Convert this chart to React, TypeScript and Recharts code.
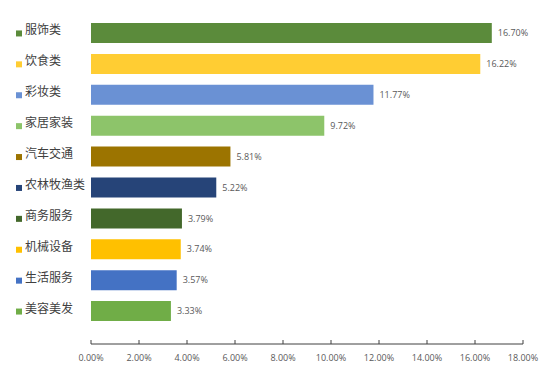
import React from 'react';
import { BarChart, Bar, XAxis, YAxis, Cell, LabelList } from 'recharts';

document.body.style.margin = '0';

const categories = ['服饰类', '饮食类', '彩妆类', '家居家装', '汽车交通', '农林牧渔类', '商务服务', '机械设备', '生活服务', '美容美发'];
const shares = [16.7, 16.22, 11.77, 9.72, 5.81, 5.22, 3.79, 3.74, 3.57, 3.33];
const barColors = ['#5B8B3B', '#FFCD33', '#6A91D4', '#8DC46A', '#9C7400', '#264478', '#43682B', '#FFC000', '#4472C4', '#70AD47'];
const xTicks = [0, 2, 4, 6, 8, 10, 12, 14, 16, 18];

const data = categories.map((name, i) => ({ name, value: shares[i], color: barColors[i] }));

const colorByName: { [key: string]: string } = {};
data.forEach(d => { colorByName[d.name] = d.color; });

const pct = (v: number) => `${v.toFixed(2)}%`;

// legend-like category labels: little square + name
const CategoryTick = (props: any) => {
  const { y, payload } = props;
  return (
    <g>
      <rect x={16} y={y - 3} width={6} height={6} fill={colorByName[payload.value]} />
      <text x={25} y={y + 1} fontSize={12} fill="#404040" fontFamily="'Noto Sans CJK SC', sans-serif">
        {payload.value}
      </text>
    </g>
  );
};

// tick marks point up into the plot in the original
const PercentTick = (props: any) => {
  const { x, y, payload } = props;
  return (
    <g>
      <line x1={x} y1={y} x2={x} y2={y - 4} stroke="#404040" strokeWidth={1} />
      <text x={x} y={y + 17} textAnchor="middle" fontSize={9} fill="#595959" fontFamily="'Open Sans', sans-serif">
        {pct(payload.value)}
      </text>
    </g>
  );
};

export default function App() {
  return (
    <div style={{ width: 554, height: 375, background: '#fff' }}>
      <BarChart
        width={554}
        height={375}
        data={data}
        layout="vertical"
        margin={{ top: 18, right: 31, left: 0, bottom: 0 }}
      >
        <XAxis
          type="number"
          domain={[0, 18]}
          ticks={xTicks}
          interval={0}
          height={31}
          tickSize={0}
          tickMargin={0}
          tickLine={false}
          axisLine={{ stroke: '#404040' }}
          tick={<PercentTick />}
        />
        <YAxis
          type="category"
          dataKey="name"
          width={91}
          axisLine={false}
          tickLine={false}
          interval={0}
          padding={{ top: 0, bottom: 17 }}
          tick={<CategoryTick />}
        />
        <Bar dataKey="value" barSize={20} isAnimationActive={false}>
          {data.map((d, i) => (
            <Cell key={`c-${i}`} fill={d.color} />
          ))}
          <LabelList
            dataKey="value"
            position="right"
            offset={6}
            formatter={(v: any) => pct(Number(v))}
            fontSize={9}
            fill="#595959"
            fontFamily="'Open Sans', sans-serif"
          />
        </Bar>
      </BarChart>
    </div>
  );
}
